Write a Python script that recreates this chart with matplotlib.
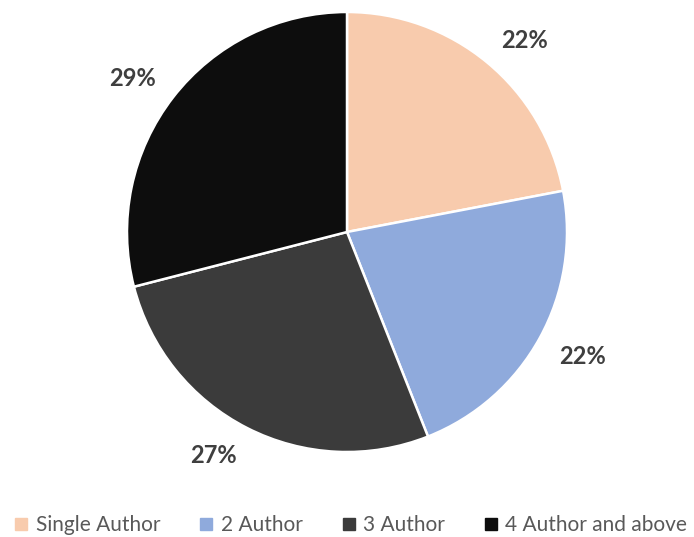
import matplotlib
matplotlib.use("Agg")
import numpy as np
import matplotlib.pyplot as plt
from matplotlib.lines import Line2D

categories = ["Single Author", "2 Author", "3 Author", "4 Author and above"]
shares = [22, 22, 27, 29]
colors = ["#F8CBAD", "#8FAADC", "#3B3B3B", "#0D0D0D"]

plt.rcParams["font.family"] = ["Lato", "DejaVu Sans"]

fig = plt.figure(figsize=(6.94, 5.37), dpi=100)
ax = fig.add_axes([127 / 694, (537 - 452) / 537, 440 / 694, 440 / 537])

wedges, _ = ax.pie(
    shares,
    colors=colors,
    startangle=90,
    counterclock=False,
    wedgeprops=dict(edgecolor="white", linewidth=1.8),
)

# percentage labels placed just outside each wedge, anchored away from the pie
total = sum(shares)
for w, v in zip(wedges, shares):
    mid = np.deg2rad((w.theta1 + w.theta2) / 2)
    c, s = np.cos(mid), np.sin(mid)
    ax.text(1.1 * c, 1.1 * s + 0.03 * np.sign(s) - 0.008, f"{100 * v / total:.0f}%",
            ha="left" if c > 0 else "right", va="center",
            color="#3F3F3F", fontsize=17, fontweight="bold")

ax.set_xlim(-1, 1)
ax.set_ylim(-1, 1)
ax.set_aspect("equal")
ax.axis("off")

handles = [Line2D([], [], marker="s", linestyle="", markersize=8,
                  markerfacecolor=c, markeredgecolor=c) for c in colors]
fig.legend(handles, categories, loc="center", bbox_to_anchor=(0.506, 1 - 525 / 537),
           ncol=4, frameon=False, fontsize=15, handlelength=0.6,
           handletextpad=0.4, columnspacing=1.9, labelcolor="#595959",
           borderaxespad=0, borderpad=0)

fig.savefig("out.png", dpi=100)
